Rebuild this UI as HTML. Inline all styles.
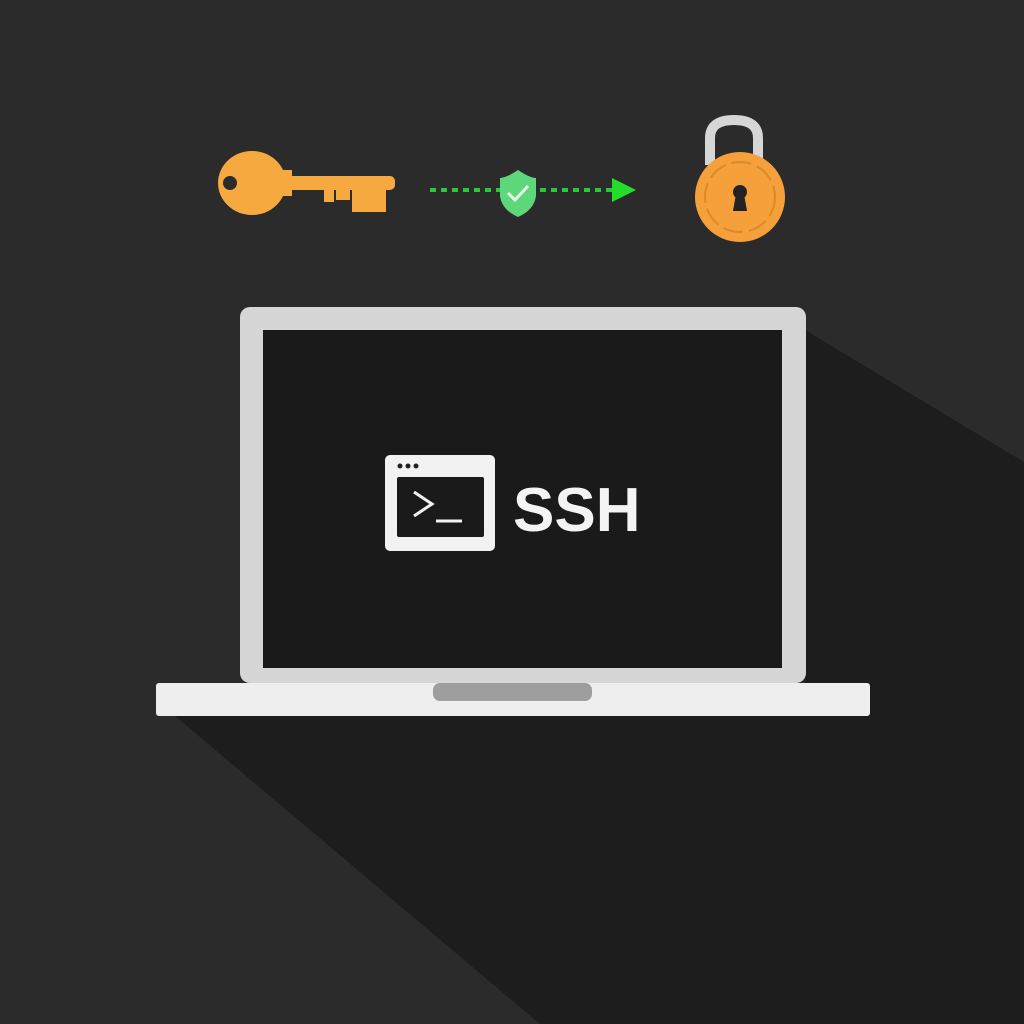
<!DOCTYPE html>
<html><head><style>body{margin:0;background:#2c2b2b}svg{display:block}</style></head><body>
<svg width="1024" height="1024" viewBox="0 0 1024 1024" xmlns="http://www.w3.org/2000/svg">
<rect width="1024" height="1024" fill="#2c2b2b"/>
<polygon points="805,330 1024,462 1024,1024 540,1024 175,716 805,716" fill="#1e1d1d"/>
<!-- key -->
<g fill="#f5a93e">
<ellipse cx="252" cy="183" rx="34" ry="32"/>
<rect x="275" y="176" width="120" height="14" rx="5"/>
<rect x="280" y="170" width="12" height="26"/>
<rect x="324" y="186" width="10" height="16"/>
<rect x="336" y="186" width="14" height="14"/>
<rect x="352" y="186" width="14" height="26"/>
<rect x="366" y="186" width="20" height="26"/>
</g>
<circle cx="230" cy="183" r="7" fill="#2c2b2b"/>
<!-- arrow -->
<line x1="430" y1="190" x2="612" y2="190" stroke="#2bc83a" stroke-width="4" stroke-dasharray="6,5"/>
<polygon points="612,178 636,190 612,202" fill="#22dd2a"/>
<path d="M518,170 Q530,178 536,178 L536,196 Q534,210 518,217 Q502,210 500,196 L500,178 Q506,178 518,170Z" fill="#5ed67a"/>
<path d="M508,193 L515,200 L528,186" stroke="#e8ffe8" stroke-width="3" fill="none"/>
<!-- lock -->
<path d="M710,165 L710,138 Q710,120 734,120 Q758,120 758,138 L758,165" stroke="#d6d6d6" stroke-width="10" fill="none"/>
<circle cx="740" cy="197" r="45" fill="#f5a03a"/>
<circle cx="740" cy="197" r="35" fill="none" stroke="#d98a2a" stroke-width="2" stroke-dasharray="20,6"/>
<circle cx="740" cy="192" r="7" fill="#222"/>
<polygon points="736,194 744,194 747,211 733,211" fill="#222"/>
<!-- laptop -->
<rect x="240" y="307" width="566" height="376" rx="10" fill="#d6d6d6"/>
<rect x="263" y="330" width="519" height="338" fill="#1b1a1a"/>
<rect x="156" y="683" width="714" height="33" rx="3" fill="#eeeeee"/>
<rect x="433" y="683" width="159" height="18" rx="7" fill="#9e9e9e"/>
<!-- terminal icon -->
<rect x="385" y="455" width="110" height="96" rx="5" fill="#f2f2f2"/>
<rect x="397" y="477" width="87" height="60" rx="2" fill="#1b1a1a"/>
<circle cx="400" cy="466" r="2.5" fill="#222"/><circle cx="408" cy="466" r="2.5" fill="#222"/><circle cx="416" cy="466" r="2.5" fill="#222"/>
<path d="M414,492 L432,504 L414,516" stroke="#f2f2f2" stroke-width="3" fill="none"/>
<line x1="436" y1="521" x2="462" y2="521" stroke="#f2f2f2" stroke-width="3"/>
<text x="513" y="531" font-family="Liberation Sans, sans-serif" font-weight="bold" font-size="62" fill="#f4f4f4">SSH</text>
</svg>
</body></html>
